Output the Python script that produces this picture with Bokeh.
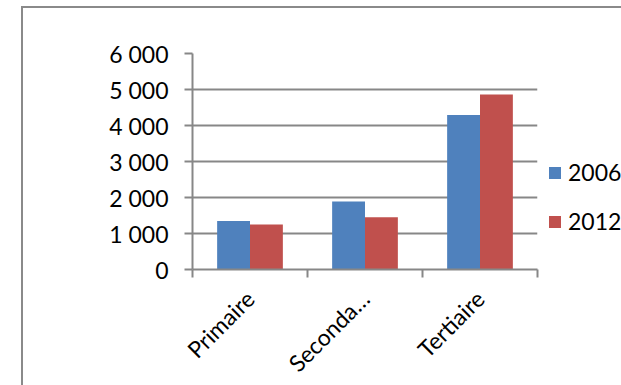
import math
from bokeh.plotting import figure
from bokeh.models import (Range1d, FixedTicker, Legend, LegendItem,
                          ColumnDataSource)
from bokeh.transform import dodge
from bokeh.embed import file_html
from bokeh.resources import INLINE

categories = ["Primaire", "Seconda…", "Tertiaire"]
series_names = ["2006", "2012"]
values_2006 = [1350, 1890, 4290]
values_2012 = [1250, 1450, 4860]
y_ticks = [0, 1000, 2000, 3000, 4000, 5000, 6000]
y_tick_labels = ["0", "1 000", "2 000", "3 000", "4 000", "5 000", "6 000"]

colors = ["#4F81BD", "#C0504D"]
gray = "#878787"
font = "Lato"
fsize = "23px"

centers = [i + 0.5 for i in range(len(categories))]
bounds = [float(i) for i in range(len(categories) + 1)]
src = ColumnDataSource(dict(x=centers, v2006=values_2006, v2012=values_2012))

p = figure(width=598, height=377, frame_width=345, frame_height=216,
           output_backend="svg", toolbar_location=None,
           x_range=Range1d(0, len(categories)), y_range=Range1d(y_ticks[0], y_ticks[-1]),
           min_border_left=169, min_border_right=84, min_border_top=45,
           min_border_bottom=116,
           styles={"margin-left": "21px", "margin-top": "6px",
                   "border-left": "2px solid #8a8a8a",
                   "border-top": "2px solid #8a8a8a"})
p.outline_line_color = None
p.background_fill_color = "white"
p.border_fill_color = "white"

bar_w = 1 / 3.5
r1 = p.vbar(x=dodge("x", -bar_w / 2, range=p.x_range), top="v2006", width=bar_w,
            source=src, fill_color=colors[0], line_color=None)
r2 = p.vbar(x=dodge("x", bar_w / 2, range=p.x_range), top="v2012", width=bar_w,
            source=src, fill_color=colors[1], line_color=None)

# grid
p.xgrid.visible = False
p.ygrid.ticker = FixedTicker(ticks=y_ticks)
p.ygrid.grid_line_color = gray
p.ygrid.grid_line_width = 2

# y axis
ya = p.yaxis[0]
ya.ticker = FixedTicker(ticks=y_ticks)
ya.major_label_overrides = {t: l for t, l in zip(y_ticks, y_tick_labels)}
ya.axis_line_color = gray
ya.axis_line_width = 2
ya.major_tick_line_color = gray
ya.major_tick_line_width = 2
ya.major_tick_out = 8
ya.major_tick_in = 0
ya.minor_tick_line_color = None
ya.major_label_standoff = 16
ya.major_label_text_font = font
ya.major_label_text_font_size = fsize
ya.major_label_text_color = "black"

# x axis
xa = p.xaxis[0]
xa.ticker = FixedTicker(ticks=centers, minor_ticks=bounds)
xa.major_label_overrides = {c: l for c, l in zip(centers, categories)}
xa.axis_line_color = gray
xa.axis_line_width = 2
xa.major_tick_line_color = None
xa.major_tick_out = 8
xa.minor_tick_line_color = gray
xa.minor_tick_line_width = 2
xa.minor_tick_out = 8
xa.minor_tick_in = 0
xa.major_label_orientation = math.pi / 4
xa.major_label_standoff = 17
xa.major_label_text_font = font
xa.major_label_text_font_size = fsize
xa.major_label_text_color = "black"

legend = Legend(items=[LegendItem(label=series_names[0], renderers=[r1]),
                       LegendItem(label=series_names[1], renderers=[r2])],
                location=(10, 34), orientation="vertical", padding=0, margin=0,
                border_line_color=None, background_fill_alpha=0,
                glyph_width=15, glyph_height=15, label_standoff=6,
                label_text_font=font, label_text_font_size=fsize,
                label_text_color="black", spacing=21)
p.add_layout(legend, "right")

open("out.html", "w").write(file_html(p, INLINE))
